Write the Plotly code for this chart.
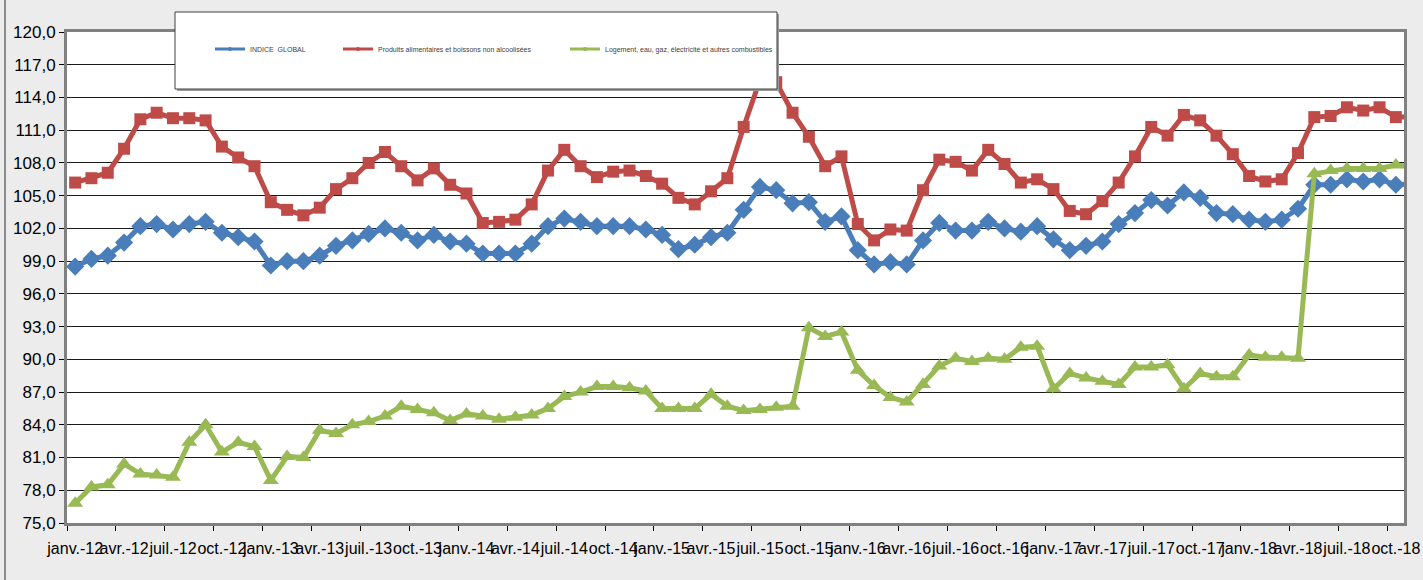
import plotly.graph_objects as go

# ---------------- data ----------------
MONTHS = ["janv.", "févr.", "mars", "avr.", "mai", "juin",
          "juil.", "août", "sept.", "oct.", "nov.", "déc."]
YEARS = ["12", "13", "14", "15", "16", "17", "18"]
categories = [f"{m}-{y}" for y in YEARS for m in MONTHS][:83]  # janv.-12 .. nov.-18

indice_global = [
    98.5, 99.2, 99.5, 100.7, 102.2, 102.4, 101.9, 102.4, 102.6, 101.6, 101.2, 100.8,
    98.6, 99.0, 99.0, 99.5, 100.4, 100.9, 101.5, 102.0, 101.6, 100.9, 101.4, 100.8,
    100.6, 99.7, 99.7, 99.7, 100.6, 102.2, 102.9, 102.6, 102.2, 102.2, 102.2, 101.9,
    101.4, 100.1, 100.5, 101.2, 101.6, 103.7, 105.8, 105.5, 104.3, 104.4, 102.6, 103.1,
    100.0, 98.7, 98.9, 98.7, 100.9, 102.5, 101.8, 101.8, 102.6, 102.0, 101.7, 102.2,
    101.0, 100.0, 100.4, 100.8, 102.4, 103.4, 104.6, 104.1, 105.3, 104.8, 103.4, 103.3,
    102.8, 102.6, 102.8, 103.8, 106.0, 106.0, 106.5, 106.3, 106.5, 106.0, 106.1,
]

produits_alimentaires = [
    106.2, 106.6, 107.1, 109.3, 112.0, 112.6, 112.1, 112.1, 111.9, 109.5, 108.5, 107.7,
    104.4, 103.7, 103.2, 103.9, 105.6, 106.6, 108.0, 109.0, 107.7, 106.4, 107.5, 106.0,
    105.2, 102.5, 102.6, 102.8, 104.2, 107.3, 109.2, 107.7, 106.7, 107.2, 107.3, 106.8,
    106.1, 104.8, 104.2, 105.4, 106.6, 111.3, 115.6, 115.4, 112.6, 110.4, 107.7, 108.6,
    102.4, 100.9, 101.9, 101.8, 105.5, 108.3, 108.1, 107.3, 109.2, 107.9, 106.2, 106.5,
    105.6, 103.6, 103.3, 104.5, 106.2, 108.6, 111.3, 110.5, 112.4, 111.9, 110.5, 108.8,
    106.8, 106.3, 106.5, 108.9, 112.2, 112.3, 113.1, 112.8, 113.1, 112.2, 112.2,
]

logement = [
    76.8, 78.3, 78.5, 80.4, 79.5, 79.4, 79.2, 82.4, 84.0, 81.5, 82.4, 82.0,
    78.9, 81.1, 81.0, 83.5, 83.2, 84.0, 84.3, 84.8, 85.7, 85.4, 85.1, 84.4,
    85.0, 84.8, 84.5, 84.7, 84.9, 85.5, 86.6, 87.0, 87.5, 87.5, 87.4, 87.1,
    85.5, 85.5, 85.5, 86.8, 85.7, 85.3, 85.4, 85.6, 85.7, 92.9, 92.1, 92.5,
    89.0, 87.6, 86.5, 86.1, 87.7, 89.4, 90.1, 89.8, 90.1, 90.0, 91.1, 91.2,
    87.3, 88.7, 88.3, 88.0, 87.7, 89.3, 89.3, 89.5, 87.3, 88.7, 88.4, 88.4,
    90.4, 90.2, 90.2, 90.1, 107.0, 107.3, 107.5, 107.5, 107.5, 107.8, 107.7,
]

series_names = [
    "INDICE  GLOBAL",
    "Produits alimentaires et boissons non alcoolisées",
    "Logement, eau, gaz, électricité et autres combustibles",
]
series_values = [indice_global, produits_alimentaires, logement]
series_colors = ["#4a7ebb", "#be4b48", "#98b954"]
series_symbols = ["diamond", "square", "triangle-up"]
series_sizes = [14, 12, 14]

# ---------------- geometry helpers (pixel -> paper) ----------------
W, H = 1423, 580
ML, MR, MT, MB = 67, 19, 32, 57
PW, PH = W - ML - MR, H - MT - MB


def xp(px):
    return (px - ML) / PW


def yp(py):
    return (H - MB - py) / PH


fig = go.Figure()

for name, vals, col, sym, sz in zip(series_names, series_values, series_colors,
                                    series_symbols, series_sizes):
    fig.add_trace(go.Scatter(
        x=categories, y=vals, mode="lines+markers", name=name,
        line=dict(color=col, width=5),
        marker=dict(symbol=sym, size=sz, color=col),
        showlegend=False, cliponaxis=True, hoverinfo="x+y",
    ))

# legend-only entries (small markers like the original legend)
legend_ids = ["legend", "legend2", "legend3"]
for name, col, lid in zip(series_names, series_colors, legend_ids):
    fig.add_trace(go.Scatter(
        x=[None], y=[None], mode="lines+markers", name=name,
        line=dict(color=col, width=3),
        marker=dict(symbol="circle", size=4, color=col),
        showlegend=True, legend=lid,
    ))

legend_font = dict(family="Liberation Sans, Arial, sans-serif", size=7, color="#404040")
legend_text_left = [252, 380, 607]
legend_common = dict(orientation="h", bgcolor="rgba(0,0,0,0)", borderwidth=0,
                     font=legend_font, xanchor="left", yanchor="middle",
                     y=yp(49), tracegroupgap=0)

xtick_font = dict(family="Liberation Sans, Arial, sans-serif", size=16, color="#000000")
ytick_font = dict(family="Liberation Sans, Arial, sans-serif", size=17, color="#000000")

fig.update_layout(
    width=W, height=H,
    margin=dict(l=ML, r=MR, t=MT, b=MB, pad=0, autoexpand=False),
    paper_bgcolor="#ececec",
    plot_bgcolor="white",
    separators=", ",
    showlegend=True,
    legend=dict(x=xp(legend_text_left[0] - 42), **legend_common),
    legend2=dict(x=xp(legend_text_left[1] - 42), **legend_common),
    legend3=dict(x=xp(legend_text_left[2] - 42), **legend_common),
    xaxis=dict(
        type="category", range=[-0.5, 81.5],
        tickmode="linear", tick0=0, dtick=3, tickson="boundaries",
        ticks="outside", ticklen=5, tickcolor="#000000", tickwidth=1,
        tickangle=0, ticklabelstandoff=9, automargin=False,
        showgrid=False, zeroline=False,
        showline=True, linecolor="#808080", linewidth=3, mirror=True,
        tickfont=xtick_font,
    ),
    yaxis=dict(
        range=[75, 120], tickmode="linear", tick0=75, dtick=3, tickformat=".1f",
        ticks="outside", ticklen=5, tickcolor="#000000", tickwidth=1, automargin=False,
        showgrid=True, gridcolor="#1a1a1a", gridwidth=1, zeroline=False,
        showline=True, linecolor="#808080", linewidth=3, mirror=True,
        tickfont=ytick_font,
    ),
    shapes=[
        # outer chart frame (left edge)
        dict(type="line", xref="paper", yref="paper",
             x0=xp(5), x1=xp(5), y0=yp(600), y1=yp(-20),
             line=dict(color="#8c8c8c", width=2), layer="below"),
        # legend box shadow + box
        dict(type="rect", xref="paper", yref="paper",
             x0=xp(177), x1=xp(779), y0=yp(91), y1=yp(14),
             fillcolor="#9a9a9a", line=dict(width=0), layer="above"),
        dict(type="rect", xref="paper", yref="paper",
             x0=xp(175), x1=xp(777), y0=yp(89), y1=yp(12),
             fillcolor="white", line=dict(color="#404040", width=1), layer="above"),
    ],
)

fig.write_html(
    "out.html",
    config={"displayModeBar": False},
    post_script="document.body.style.margin='0px';document.body.style.overflow='hidden';",
)
